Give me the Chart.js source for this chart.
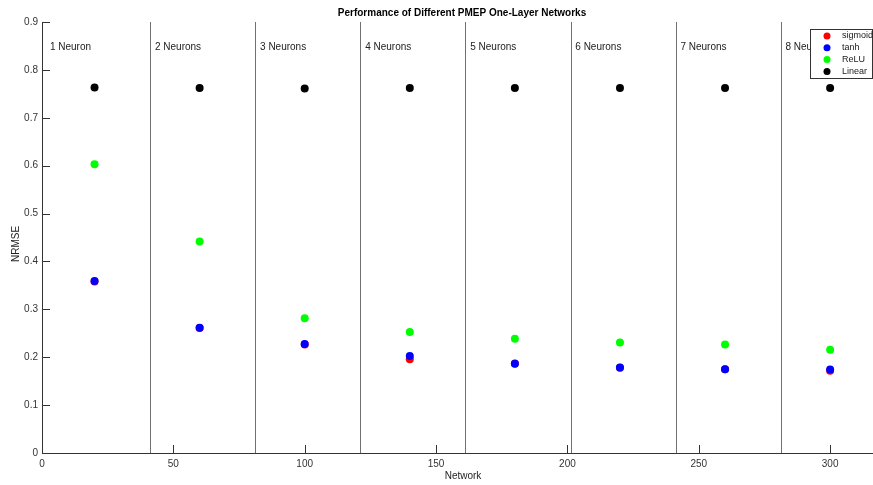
<!DOCTYPE html>
<html lang="en">
<head>
<meta charset="UTF-8">
<title>PMEP One-Layer Networks</title>
<script src="https://cdn.jsdelivr.net/npm/chart.js"></script>
<style>
    html, body { margin: 0; padding: 0; background: #fff; }
    #wrap { width: 873px; height: 485px; }
</style>
</head>
<body>
<div id="wrap"><canvas id="chart" width="873" height="485"></canvas></div>
<script>
// network index (x position of each group)
const networkX = [20, 60, 100, 140, 180, 220, 260, 300];
const groupLabels = ['1 Neuron', '2 Neurons', '3 Neurons', '4 Neurons', '5 Neurons', '6 Neurons', '7 Neurons', '8 Neurons'];
const separators = [41.2, 81.2, 121.2, 161.2, 201.2, 241.2, 281.2];

// NRMSE per activation
const sigmoidVals = [0.358, 0.261, 0.2265, 0.196, 0.187, 0.178, 0.175, 0.1716];
const tanhVals = [0.3594, 0.2616, 0.2275, 0.2024, 0.1863, 0.1786, 0.1751, 0.1743];
const reluVals = [0.603, 0.4416, 0.2815, 0.2526, 0.2386, 0.2309, 0.2267, 0.2156];
const linearVals = [0.763, 0.762, 0.761, 0.762, 0.762, 0.762, 0.762, 0.762];

const xTicks = [0, 50, 100, 150, 200, 250, 300];
const yTicks = [0, 0.1, 0.2, 0.3, 0.4, 0.5, 0.6, 0.7, 0.8, 0.9];

const FONT = '"Liberation Sans", Arial, sans-serif';

function toPoints(vals) {
    return vals.map((v, i) => ({ x: networkX[i], y: v }));
}

const series = [
    { label: 'sigmoid', data: sigmoidVals, color: '#ff0000', order: 1 },
    { label: 'tanh', data: tanhVals, color: '#0000ff', order: 0 },
    { label: 'ReLU', data: reluVals, color: '#00ff00', order: 2 },
    { label: 'Linear', data: linearVals, color: '#000000', order: 3 }
];

// separators, group names, inward ticks, titles and legend box
const extras = {
    id: 'extras',
    beforeDatasetsDraw(chart) {
        const { ctx, chartArea, scales: { x, y } } = chart;
        ctx.save();
        ctx.strokeStyle = '#707070';
        ctx.lineWidth = 1;
        separators.forEach(s => {
            const px = Math.round(x.getPixelForValue(s)) + 0.5;
            ctx.beginPath();
            ctx.moveTo(px, y.getPixelForValue(0));
            ctx.lineTo(px, y.getPixelForValue(0.9));
            ctx.stroke();
        });
        ctx.fillStyle = '#222';
        ctx.font = '10px ' + FONT;
        ctx.textBaseline = 'middle';
        ctx.textAlign = 'left';
        groupLabels.forEach((g, i) => {
            ctx.fillText(g, x.getPixelForValue(i * 40 + 3), y.getPixelForValue(0.848));
        });
        // inward tick marks
        ctx.strokeStyle = '#333';
        yTicks.forEach(t => {
            const py = Math.round(y.getPixelForValue(t)) + 0.5;
            ctx.beginPath();
            ctx.moveTo(chartArea.left, py);
            ctx.lineTo(chartArea.left + 8, py);
            ctx.stroke();
        });
        xTicks.forEach(t => {
            const px = Math.round(x.getPixelForValue(t)) + 0.5;
            ctx.beginPath();
            ctx.moveTo(px, chartArea.bottom);
            ctx.lineTo(px, chartArea.bottom - 8);
            ctx.stroke();
        });
        // axis line runs on to the image edge
        const by = Math.round(chartArea.bottom) + 0.5;
        ctx.beginPath();
        ctx.moveTo(chartArea.right - 1, by);
        ctx.lineTo(chart.width, by);
        ctx.stroke();
        ctx.restore();
    },
    afterDraw(chart) {
        const { ctx } = chart;
        ctx.save();
        ctx.fillStyle = '#000';
        ctx.font = 'bold 10px ' + FONT;
        ctx.textAlign = 'center';
        ctx.textBaseline = 'middle';
        ctx.fillText('Performance of Different PMEP One-Layer Networks', 462, 13);

        ctx.fillStyle = '#222';
        ctx.font = '10px ' + FONT;
        ctx.fillText('Network', 463, 476);
        ctx.save();
        ctx.translate(16, 244);
        ctx.rotate(-Math.PI / 2);
        ctx.fillText('NRMSE', 0, 0);
        ctx.restore();

        // legend
        ctx.fillStyle = '#fff';
        ctx.fillRect(810, 29, 62, 49);
        ctx.strokeStyle = '#333';
        ctx.lineWidth = 1;
        ctx.strokeRect(810.5, 29.5, 62, 49);
        ctx.font = '9px ' + FONT;
        ctx.textAlign = 'left';
        series.forEach((s, i) => {
            const ly = 36 + i * 11.8;
            ctx.fillStyle = s.color;
            ctx.beginPath();
            ctx.arc(827, ly, 3.5, 0, Math.PI * 2);
            ctx.fill();
            ctx.fillStyle = '#222';
            ctx.fillText(s.label, 842, ly);
        });
        ctx.restore();
    }
};

new Chart(document.getElementById('chart'), {
    type: 'scatter',
    data: {
        datasets: series.map(s => ({
            label: s.label,
            data: toPoints(s.data),
            backgroundColor: s.color,
            borderColor: s.color,
            pointRadius: 4,
            pointBorderWidth: 0,
            order: s.order
        }))
    },
    options: {
        responsive: false,
        animation: false,
        layout: { padding: { top: 22, right: 0, left: 0, bottom: 0 } },
        plugins: {
            legend: { display: false },
            tooltip: { enabled: false },
            title: { display: false }
        },
        scales: {
            x: {
                type: 'linear',
                min: 0,
                max: 314.8,
                afterFit(scale) { scale.height = 32; },
                grid: { display: true, drawOnChartArea: false, drawTicks: false },
                border: { display: true, color: '#333', width: 1 },
                ticks: {
                    stepSize: 50,
                    includeBounds: false,
                    padding: 5,
                    maxRotation: 0,
                    color: '#333',
                    font: { family: FONT, size: 10 }
                }
            },
            y: {
                min: 0,
                max: 0.9,
                afterFit(scale) { scale.width = 42; },
                grid: { display: true, drawOnChartArea: false, drawTicks: false },
                border: { display: true, color: '#333', width: 1 },
                ticks: {
                    stepSize: 0.1,
                    padding: 4,
                    color: '#333',
                    font: { family: FONT, size: 10 },
                    callback: v => Math.round(v * 10) / 10
                }
            }
        }
    },
    plugins: [extras]
});
</script>
</body>
</html>
